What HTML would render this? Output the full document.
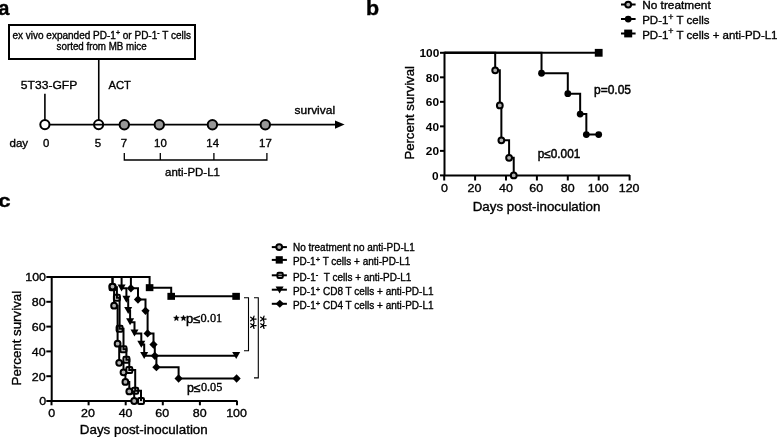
<!DOCTYPE html>
<html><head><meta charset="utf-8"><style>
html,body{margin:0;padding:0;background:#fff;}
body{width:777px;height:437px;overflow:hidden;}
svg{display:block;filter:grayscale(1) blur(0.3px);}
text{fill:#000;stroke:#000;stroke-width:0.35px;}
</style></head><body>
<svg width="777" height="437" viewBox="0 0 777 437">
<rect x="9" y="25" width="186" height="34" fill="none" stroke="#000" stroke-width="2"/>
<line x1="98.75" y1="60" x2="98.75" y2="120.5" stroke="#000" stroke-width="1.6"/>
<line x1="44.9" y1="93.8" x2="44.9" y2="120" stroke="#000" stroke-width="1.6"/>
<line x1="44.9" y1="124.6" x2="337" y2="124.6" stroke="#000" stroke-width="1.8"/>
<path d="M344.6 124.6 L335 120.4 L335 128.8 Z" fill="#000"/>
<circle cx="44.9" cy="124.6" r="4.6" fill="#fff" stroke="#000" stroke-width="2"/>
<circle cx="98.6" cy="124.6" r="4.6" fill="none" stroke="#000" stroke-width="2"/>
<circle cx="124.3" cy="124.7" r="4.7" fill="#979797" stroke="#000" stroke-width="2"/>
<circle cx="159.3" cy="124.7" r="4.7" fill="#979797" stroke="#000" stroke-width="2"/>
<circle cx="212.4" cy="124.7" r="4.7" fill="#979797" stroke="#000" stroke-width="2"/>
<circle cx="265.3" cy="124.7" r="4.7" fill="#979797" stroke="#000" stroke-width="2"/>
<path d="M124.3 153 V160 H266.9 V153 M160.3 160 V153 M213.9 160 V153" fill="none" stroke="#000" stroke-width="1.3"/>
<text transform="translate(42.89,146.50) scale(1.0364,1)" style="font-family:'Liberation Sans', sans-serif;font-size:11px;">0</text>
<text transform="translate(94.67,146.50) scale(1.0364,1)" style="font-family:'Liberation Sans', sans-serif;font-size:11px;">5</text>
<text transform="translate(120.67,146.50) scale(1.0364,1)" style="font-family:'Liberation Sans', sans-serif;font-size:11px;">7</text>
<text transform="translate(154.06,146.50) scale(1.0364,1)" style="font-family:'Liberation Sans', sans-serif;font-size:11px;">10</text>
<text transform="translate(206.36,146.50) scale(1.0364,1)" style="font-family:'Liberation Sans', sans-serif;font-size:11px;">14</text>
<text transform="translate(259.06,146.50) scale(1.0364,1)" style="font-family:'Liberation Sans', sans-serif;font-size:11px;">17</text>
<path d="M444.5 51.8 V176.4 M443.5 175.4 H630" fill="none" stroke="#000" stroke-width="2"/>
<line x1="440" y1="175.40" x2="444" y2="175.40" stroke="#000" stroke-width="2"/>
<text transform="translate(432.10,179.80) scale(1.0500,1)" style="font-family:'Liberation Sans', sans-serif;font-size:11.3px;font-weight:bold;stroke-width:0;">0</text>
<line x1="440" y1="150.88" x2="444" y2="150.88" stroke="#000" stroke-width="2"/>
<text transform="translate(425.80,155.28) scale(1.0500,1)" style="font-family:'Liberation Sans', sans-serif;font-size:11.3px;font-weight:bold;stroke-width:0;">20</text>
<line x1="440" y1="126.36" x2="444" y2="126.36" stroke="#000" stroke-width="2"/>
<text transform="translate(425.80,130.76) scale(1.0500,1)" style="font-family:'Liberation Sans', sans-serif;font-size:11.3px;font-weight:bold;stroke-width:0;">40</text>
<line x1="440" y1="101.84" x2="444" y2="101.84" stroke="#000" stroke-width="2"/>
<text transform="translate(425.80,106.24) scale(1.0500,1)" style="font-family:'Liberation Sans', sans-serif;font-size:11.3px;font-weight:bold;stroke-width:0;">60</text>
<line x1="440" y1="77.32" x2="444" y2="77.32" stroke="#000" stroke-width="2"/>
<text transform="translate(425.80,81.72) scale(1.0500,1)" style="font-family:'Liberation Sans', sans-serif;font-size:11.3px;font-weight:bold;stroke-width:0;">80</text>
<line x1="440" y1="52.80" x2="444" y2="52.80" stroke="#000" stroke-width="2"/>
<text transform="translate(419.50,57.20) scale(1.0500,1)" style="font-family:'Liberation Sans', sans-serif;font-size:11.3px;font-weight:bold;stroke-width:0;">100</text>
<line x1="444.20" y1="175" x2="444.20" y2="180.5" stroke="#000" stroke-width="2"/>
<text transform="translate(440.95,191.60) scale(1.0833,1)" style="font-family:'Liberation Sans', sans-serif;font-size:11.5px;">0</text>
<line x1="475.10" y1="175" x2="475.10" y2="180.5" stroke="#000" stroke-width="2"/>
<text transform="translate(467.52,191.60) scale(1.0833,1)" style="font-family:'Liberation Sans', sans-serif;font-size:11.5px;">20</text>
<line x1="506.00" y1="175" x2="506.00" y2="180.5" stroke="#000" stroke-width="2"/>
<text transform="translate(498.96,191.60) scale(1.0833,1)" style="font-family:'Liberation Sans', sans-serif;font-size:11.5px;">40</text>
<line x1="536.90" y1="175" x2="536.90" y2="180.5" stroke="#000" stroke-width="2"/>
<text transform="translate(529.32,191.60) scale(1.0833,1)" style="font-family:'Liberation Sans', sans-serif;font-size:11.5px;">60</text>
<line x1="567.80" y1="175" x2="567.80" y2="180.5" stroke="#000" stroke-width="2"/>
<text transform="translate(560.76,191.60) scale(1.0833,1)" style="font-family:'Liberation Sans', sans-serif;font-size:11.5px;">80</text>
<line x1="598.70" y1="175" x2="598.70" y2="180.5" stroke="#000" stroke-width="2"/>
<text transform="translate(587.87,191.60) scale(1.0833,1)" style="font-family:'Liberation Sans', sans-serif;font-size:11.5px;">100</text>
<line x1="629.60" y1="175" x2="629.60" y2="180.5" stroke="#000" stroke-width="2"/>
<text transform="translate(618.77,191.60) scale(1.0833,1)" style="font-family:'Liberation Sans', sans-serif;font-size:11.5px;">120</text>
<path d="M444.5 52.80 H598.70" fill="none" stroke="#000" stroke-width="2"/>
<rect x="594.80" y="48.90" width="7.8" height="7.8" fill="#000"/>
<path d="M444.5 52.80 H495.19 V70.33 H499.82 V105.40 H501.37 V140.34 H509.09 V157.87 H513.73 V175.40" fill="none" stroke="#000" stroke-width="2"/>
<circle cx="495.19" cy="70.33" r="2.9" fill="#b0b0b0" stroke="#000" stroke-width="2"/>
<circle cx="499.82" cy="105.40" r="2.9" fill="#b0b0b0" stroke="#000" stroke-width="2"/>
<circle cx="501.37" cy="140.34" r="2.9" fill="#b0b0b0" stroke="#000" stroke-width="2"/>
<circle cx="509.09" cy="157.87" r="2.9" fill="#b0b0b0" stroke="#000" stroke-width="2"/>
<circle cx="513.73" cy="175.40" r="2.9" fill="#b0b0b0" stroke="#000" stroke-width="2"/>
<path d="M444.5 52.80 H541.53 V73.27 H567.80 V93.63 H580.16 V114.10 H586.34 V134.57 H598.70" fill="none" stroke="#000" stroke-width="2"/>
<circle cx="541.53" cy="73.27" r="3.4" fill="#000"/>
<circle cx="567.80" cy="93.63" r="3.4" fill="#000"/>
<circle cx="580.16" cy="114.10" r="3.4" fill="#000"/>
<circle cx="586.34" cy="134.57" r="3.4" fill="#000"/>
<circle cx="598.70" cy="134.57" r="3.4" fill="#000"/>
<path d="M621 4.6 H635.6 M621 19.1 H635.6 M621 33.5 H635.6" stroke="#000" stroke-width="2"/>
<circle cx="628.2" cy="4.6" r="2.9" fill="#b0b0b0" stroke="#000" stroke-width="2"/>
<circle cx="628.2" cy="19.1" r="3.4" fill="#000"/>
<rect x="624.2" y="29.6" width="8" height="7.8" fill="#000"/>
<path d="M51.7 276 V402 M50.7 401 H237.4" fill="none" stroke="#000" stroke-width="2"/>
<line x1="46.3" y1="401.00" x2="51" y2="401.00" stroke="#000" stroke-width="2"/>
<text transform="translate(39.30,405.30) scale(1.0833,1)" style="font-family:'Liberation Sans', sans-serif;font-size:11.5px;">0</text>
<line x1="46.3" y1="376.20" x2="51" y2="376.20" stroke="#000" stroke-width="2"/>
<text transform="translate(31.72,380.50) scale(1.0833,1)" style="font-family:'Liberation Sans', sans-serif;font-size:11.5px;">20</text>
<line x1="46.3" y1="351.40" x2="51" y2="351.40" stroke="#000" stroke-width="2"/>
<text transform="translate(31.72,355.70) scale(1.0833,1)" style="font-family:'Liberation Sans', sans-serif;font-size:11.5px;">40</text>
<line x1="46.3" y1="326.60" x2="51" y2="326.60" stroke="#000" stroke-width="2"/>
<text transform="translate(31.72,330.90) scale(1.0833,1)" style="font-family:'Liberation Sans', sans-serif;font-size:11.5px;">60</text>
<line x1="46.3" y1="301.80" x2="51" y2="301.80" stroke="#000" stroke-width="2"/>
<text transform="translate(31.72,306.10) scale(1.0833,1)" style="font-family:'Liberation Sans', sans-serif;font-size:11.5px;">80</text>
<line x1="46.3" y1="277.00" x2="51" y2="277.00" stroke="#000" stroke-width="2"/>
<text transform="translate(25.22,281.30) scale(1.0833,1)" style="font-family:'Liberation Sans', sans-serif;font-size:11.5px;">100</text>
<line x1="51.50" y1="401" x2="51.50" y2="405.3" stroke="#000" stroke-width="2"/>
<text transform="translate(48.25,416.60) scale(1.0833,1)" style="font-family:'Liberation Sans', sans-serif;font-size:11.5px;">0</text>
<line x1="88.60" y1="401" x2="88.60" y2="405.3" stroke="#000" stroke-width="2"/>
<text transform="translate(81.02,416.60) scale(1.0833,1)" style="font-family:'Liberation Sans', sans-serif;font-size:11.5px;">20</text>
<line x1="125.70" y1="401" x2="125.70" y2="405.3" stroke="#000" stroke-width="2"/>
<text transform="translate(118.66,416.60) scale(1.0833,1)" style="font-family:'Liberation Sans', sans-serif;font-size:11.5px;">40</text>
<line x1="162.80" y1="401" x2="162.80" y2="405.3" stroke="#000" stroke-width="2"/>
<text transform="translate(155.22,416.60) scale(1.0833,1)" style="font-family:'Liberation Sans', sans-serif;font-size:11.5px;">60</text>
<line x1="199.90" y1="401" x2="199.90" y2="405.3" stroke="#000" stroke-width="2"/>
<text transform="translate(192.86,416.60) scale(1.0833,1)" style="font-family:'Liberation Sans', sans-serif;font-size:11.5px;">80</text>
<line x1="237.00" y1="401" x2="237.00" y2="405.3" stroke="#000" stroke-width="2"/>
<text transform="translate(226.17,416.60) scale(1.0833,1)" style="font-family:'Liberation Sans', sans-serif;font-size:11.5px;">100</text>
<path d="M51.7 277.00 H149.60 V287.66 H171.20 V296.34 H236.30" fill="none" stroke="#000" stroke-width="2"/>
<rect x="145.80" y="284.16" width="7.6" height="7" fill="#000"/>
<rect x="167.40" y="292.84" width="7.6" height="7" fill="#000"/>
<rect x="232.30" y="292.84" width="7.6" height="7" fill="#000"/>
<path d="M51.7 277.00 H130.90 V288.28 H138.00 V299.57 H145.50 V310.85 H147.60 V333.42 H153.50 V344.58 H154.80 V355.86 H156.40 V367.15 H178.60 V378.43 H236.30" fill="none" stroke="#000" stroke-width="2"/>
<path d="M130.90 284.08 L135.00 288.28 L130.90 292.48 L126.80 288.28 Z" fill="#000"/>
<path d="M138.00 295.37 L142.10 299.57 L138.00 303.77 L133.90 299.57 Z" fill="#000"/>
<path d="M145.50 306.65 L149.60 310.85 L145.50 315.05 L141.40 310.85 Z" fill="#000"/>
<path d="M147.60 329.22 L151.70 333.42 L147.60 337.62 L143.50 333.42 Z" fill="#000"/>
<path d="M153.50 340.38 L157.60 344.58 L153.50 348.78 L149.40 344.58 Z" fill="#000"/>
<path d="M154.80 351.66 L158.90 355.86 L154.80 360.06 L150.70 355.86 Z" fill="#000"/>
<path d="M156.40 362.95 L160.50 367.15 L156.40 371.35 L152.30 367.15 Z" fill="#000"/>
<path d="M178.60 374.23 L182.70 378.43 L178.60 382.63 L174.50 378.43 Z" fill="#000"/>
<path d="M236.60 374.23 L240.70 378.43 L236.60 382.63 L232.50 378.43 Z" fill="#000"/>
<path d="M51.7 277.00 H121.60 V288.28 H126.40 V299.57 H128.20 V310.85 H130.10 V322.14 H134.50 V333.42 H141.30 V344.58 H144.20 V355.86 H236.30" fill="none" stroke="#000" stroke-width="2"/>
<path d="M117.60 284.48 L125.60 284.48 L121.60 291.48 Z" fill="#000"/>
<path d="M122.40 295.77 L130.40 295.77 L126.40 302.77 Z" fill="#000"/>
<path d="M124.20 307.05 L132.20 307.05 L128.20 314.05 Z" fill="#000"/>
<path d="M126.10 318.34 L134.10 318.34 L130.10 325.34 Z" fill="#000"/>
<path d="M130.50 329.62 L138.50 329.62 L134.50 336.62 Z" fill="#000"/>
<path d="M137.30 340.78 L145.30 340.78 L141.30 347.78 Z" fill="#000"/>
<path d="M140.20 352.06 L148.20 352.06 L144.20 359.06 Z" fill="#000"/>
<path d="M232.20 352.06 L240.20 352.06 L236.20 359.06 Z" fill="#000"/>
<rect x="109.50" y="284.29" width="6" height="6" rx="1.2" fill="#d8d8d8" stroke="#000" stroke-width="2"/>
<rect x="113.90" y="294.71" width="6" height="6" rx="1.2" fill="#d8d8d8" stroke="#000" stroke-width="2"/>
<rect x="116.60" y="325.71" width="6" height="6" rx="1.2" fill="#d8d8d8" stroke="#000" stroke-width="2"/>
<rect x="120.50" y="346.29" width="6" height="6" rx="1.2" fill="#d8d8d8" stroke="#000" stroke-width="2"/>
<rect x="123.40" y="356.71" width="6" height="6" rx="1.2" fill="#d8d8d8" stroke="#000" stroke-width="2"/>
<rect x="126.30" y="367.00" width="6" height="6" rx="1.2" fill="#d8d8d8" stroke="#000" stroke-width="2"/>
<rect x="132.20" y="387.71" width="6" height="6" rx="1.2" fill="#d8d8d8" stroke="#000" stroke-width="2"/>
<rect x="138.00" y="398.00" width="6" height="6" rx="1.2" fill="#d8d8d8" stroke="#000" stroke-width="2"/>
<path d="M51.7 277.00 H112.50 V287.29 H116.90 V297.71 H119.60 V328.71 H123.50 V349.29 H126.40 V359.71 H129.30 V370.00 H135.20 V390.71 H141.00 V401.00" fill="none" stroke="#000" stroke-width="2"/>
<path d="M51.7 277.00 H112.50 V286.55 H114.10 V305.64 H117.60 V343.71 H119.20 V362.81 H123.50 V372.36 H125.40 V381.90 H129.30 V391.45 H134.20 V401.00" fill="none" stroke="#000" stroke-width="2"/>
<circle cx="112.50" cy="286.55" r="2.9" fill="#b0b0b0" stroke="#000" stroke-width="2"/>
<circle cx="114.10" cy="305.64" r="2.9" fill="#b0b0b0" stroke="#000" stroke-width="2"/>
<circle cx="117.60" cy="343.71" r="2.9" fill="#b0b0b0" stroke="#000" stroke-width="2"/>
<circle cx="119.20" cy="362.81" r="2.9" fill="#b0b0b0" stroke="#000" stroke-width="2"/>
<circle cx="123.50" cy="372.36" r="2.9" fill="#b0b0b0" stroke="#000" stroke-width="2"/>
<circle cx="125.40" cy="381.90" r="2.9" fill="#b0b0b0" stroke="#000" stroke-width="2"/>
<circle cx="129.30" cy="391.45" r="2.9" fill="#b0b0b0" stroke="#000" stroke-width="2"/>
<circle cx="134.20" cy="401.00" r="2.9" fill="#b0b0b0" stroke="#000" stroke-width="2"/>
<path d="M244 297.8 H248.5 V350.7 H244 M254 297.8 H258.3 V377.9 H254" fill="none" stroke="#000" stroke-width="1.1"/>
<polygon points="176.40,315.20 177.19,317.11 179.25,317.27 177.68,318.62 178.16,320.63 176.40,319.55 174.64,320.63 175.12,318.62 173.55,317.27 175.61,317.11" fill="#000" stroke="#000" stroke-width="0.5"/>
<polygon points="183.50,315.20 184.29,317.11 186.35,317.27 184.78,318.62 185.26,320.63 183.50,319.55 181.74,320.63 182.22,318.62 180.65,317.27 182.71,317.11" fill="#000" stroke="#000" stroke-width="0.5"/>
<path d="M253.10 319.00 L256.10 319.00 M253.10 319.00 L254.03 321.85 M253.10 319.00 L250.67 320.76 M253.10 319.00 L250.67 317.24 M253.10 319.00 L254.03 316.15 " stroke="#000" stroke-width="1.25" stroke-linecap="round" fill="none"/>
<path d="M253.10 325.60 L256.10 325.60 M253.10 325.60 L254.03 328.45 M253.10 325.60 L250.67 327.36 M253.10 325.60 L250.67 323.84 M253.10 325.60 L254.03 322.75 " stroke="#000" stroke-width="1.25" stroke-linecap="round" fill="none"/>
<path d="M263.10 319.00 L266.10 319.00 M263.10 319.00 L264.03 321.85 M263.10 319.00 L260.67 320.76 M263.10 319.00 L260.67 317.24 M263.10 319.00 L264.03 316.15 " stroke="#000" stroke-width="1.25" stroke-linecap="round" fill="none"/>
<path d="M263.10 325.60 L266.10 325.60 M263.10 325.60 L264.03 328.45 M263.10 325.60 L260.67 327.36 M263.10 325.60 L260.67 323.84 M263.10 325.60 L264.03 322.75 " stroke="#000" stroke-width="1.25" stroke-linecap="round" fill="none"/>
<line x1="271.8" y1="247.1" x2="286.9" y2="247.1" stroke="#000" stroke-width="2"/>
<line x1="271.8" y1="259.9" x2="286.9" y2="259.9" stroke="#000" stroke-width="2"/>
<line x1="271.8" y1="275.3" x2="286.9" y2="275.3" stroke="#000" stroke-width="2"/>
<line x1="271.8" y1="289.7" x2="286.9" y2="289.7" stroke="#000" stroke-width="2"/>
<line x1="271.8" y1="303.8" x2="286.9" y2="303.8" stroke="#000" stroke-width="2"/>
<circle cx="279.2" cy="247.1" r="2.9" fill="#b0b0b0" stroke="#000" stroke-width="2"/>
<rect x="275.7" y="256.2" width="7.1" height="7.4" fill="#000"/>
<rect x="277.4" y="272.7" width="5.4" height="5.3" rx="1.3" fill="#b0b0b0" stroke="#000" stroke-width="2"/>
<line x1="277.4" y1="275.3" x2="282.8" y2="275.3" stroke="#000" stroke-width="1.2"/>
<path d="M275.6 286.59999999999997 L283.6 286.59999999999997 L279.6 293.59999999999997 Z" fill="#000"/>
<path d="M279.8 299.7 L284 303.8 L279.8 307.8 L275.6 303.8 Z" fill="#000"/>
<text transform="translate(-1.64,14.80) scale(1.0400,1)" style="font-family:'Liberation Sans', sans-serif;font-size:19.3px;font-weight:bold;">a</text>
<text transform="translate(12.40,38.60) scale(1.0017,1)" style="font-family:'Liberation Sans', sans-serif;font-size:10px;">ex vivo expanded PD-1<tspan style="font-size:7px" dy="-3.6">+</tspan><tspan dy="3.6"> or PD-1</tspan><tspan style="font-size:7px" dy="-3.6">-</tspan><tspan dy="3.6"> T cells</tspan></text>
<text transform="translate(56.60,49.80) scale(0.9783,1)" style="font-family:'Liberation Sans', sans-serif;font-size:10px;">sorted from MB mice</text>
<text transform="translate(20.87,88.50) scale(1.0259,1)" style="font-family:'Liberation Sans', sans-serif;font-size:11.8px;">5T33-GFP</text>
<text transform="translate(108.50,88.50) scale(0.9542,1)" style="font-family:'Liberation Sans', sans-serif;font-size:11.8px;">ACT</text>
<text transform="translate(9.50,146.50) scale(1.0500,1)" style="font-family:'Liberation Sans', sans-serif;font-size:11px;">day</text>
<text transform="translate(294.51,114.40) scale(1.0889,1)" style="font-family:'Liberation Sans', sans-serif;font-size:11px;">survival</text>
<text transform="translate(165.10,176.30) scale(1.0442,1)" style="font-family:'Liberation Sans', sans-serif;font-size:11px;">anti-PD-L1</text>
<text transform="translate(366.00,14.60) scale(1.1000,1)" style="font-family:'Liberation Sans', sans-serif;font-size:19.5px;font-weight:bold;">b</text>
<text transform="translate(472.71,211.20) scale(1.0948,1)" style="font-family:'Liberation Sans', sans-serif;font-size:12.2px;">Days post-inoculation</text>
<text transform="translate(413.90,159.61) rotate(-90) scale(1.0121,1)" style="font-family:'Liberation Sans', sans-serif;font-size:13px;">Percent survival</text>
<text transform="translate(594.00,93.70) scale(1.0000,1)" style="font-family:'Liberation Sans', sans-serif;font-size:12px;stroke-width:0.45px;">p=0.05</text>
<text transform="translate(537.72,157.60) scale(0.9833,1)" style="font-family:'Liberation Sans', sans-serif;font-size:12px;stroke-width:0.45px;">p&#8804;0.001</text>
<text transform="translate(642.18,8.70) scale(1.0227,1)" style="font-family:'Liberation Sans', sans-serif;font-size:11.6px;">No treatment</text>
<text transform="translate(642.21,24.20) scale(0.9910,1)" style="font-family:'Liberation Sans', sans-serif;font-size:11.6px;">PD-1<tspan style="font-size:9px" dy="-4.2">+</tspan><tspan dy="4.2"> T cells</tspan></text>
<text transform="translate(642.21,38.60) scale(0.9910,1)" style="font-family:'Liberation Sans', sans-serif;font-size:11.6px;">PD-1<tspan style="font-size:9px" dy="-4.2">+</tspan><tspan dy="4.2"> T cells + anti-PD-L1</tspan></text>
<text transform="translate(-1.77,207.30) scale(1.1667,1)" style="font-family:'Liberation Sans', sans-serif;font-size:19px;font-weight:bold;">c</text>
<text transform="translate(79.83,433.90) scale(1.0720,1)" style="font-family:'Liberation Sans', sans-serif;font-size:12.5px;">Days post-inoculation</text>
<text transform="translate(20.70,385.42) rotate(-90) scale(1.0231,1)" style="font-family:'Liberation Sans', sans-serif;font-size:13px;">Percent survival</text>
<text transform="translate(186.02,322.60) scale(1.0833,1)" style="font-family:'Liberation Sans', sans-serif;font-size:12px;stroke-width:0.45px;">p&#8804;</text>
<text transform="translate(200.60,322.20) scale(0.9524,1)" style="font-family:'Liberation Serif', serif;font-size:13px;stroke-width:0.35px;">0.01</text>
<text transform="translate(186.97,391.60) scale(1.0333,1)" style="font-family:'Liberation Sans', sans-serif;font-size:12px;stroke-width:0.45px;">p&#8804;</text>
<text transform="translate(200.90,391.40) scale(0.9455,1)" style="font-family:'Liberation Serif', serif;font-size:13px;stroke-width:0.35px;">0.05</text>
<text transform="translate(292.96,250.80) scale(0.9422,1)" style="font-family:'Liberation Sans', sans-serif;font-size:10.6px;">No treatment no anti-PD-L1</text>
<text transform="translate(292.96,265.40) scale(0.9415,1)" style="font-family:'Liberation Sans', sans-serif;font-size:10.6px;">PD-1<tspan style="font-size:8px" dy="-3.6">+</tspan><tspan dy="3.6"> T cells + anti-PD-L1</tspan></text>
<text transform="translate(292.96,280.80) scale(0.9419,1)" style="font-family:'Liberation Sans', sans-serif;font-size:10.6px;">PD-1<tspan style="font-size:8px" dy="-3.6">-</tspan><tspan dy="3.6"> &#160;T cells + anti-PD-L1</tspan></text>
<text transform="translate(292.95,295.20) scale(0.9456,1)" style="font-family:'Liberation Sans', sans-serif;font-size:10.6px;">PD-1<tspan style="font-size:8px" dy="-3.6">+</tspan><tspan dy="3.6"> CD8 T cells + anti-PD-L1</tspan></text>
<text transform="translate(292.95,309.30) scale(0.9456,1)" style="font-family:'Liberation Sans', sans-serif;font-size:10.6px;">PD-1<tspan style="font-size:8px" dy="-3.6">+</tspan><tspan dy="3.6"> CD4 T cells + anti-PD-L1</tspan></text>
</svg>
</body></html>
